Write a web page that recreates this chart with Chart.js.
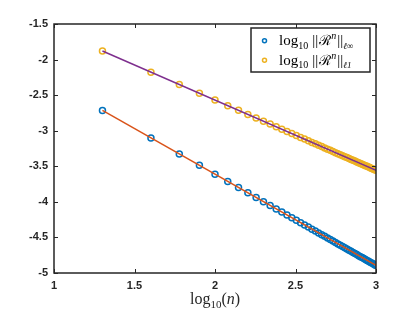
<!DOCTYPE html>
<html>
<head>
<meta charset="utf-8">
<script src="https://cdn.jsdelivr.net/npm/chart.js@4/dist/chart.umd.min.js"></script>
<style>
  body { margin: 0; background: #fff; }
</style>
</head>
<body>
<canvas id="normChart" width="415" height="312"></canvas>
<script>
// log10(n) for n = 20, 40, ..., 1000
const logN = [1.3010, 1.6021, 1.7782, 1.9031, 2.0000, 2.0792, 2.1461, 2.2041, 2.2553, 2.3010,
  2.3424, 2.3802, 2.4150, 2.4472, 2.4771, 2.5051, 2.5315, 2.5563, 2.5798, 2.6021,
  2.6232, 2.6435, 2.6628, 2.6812, 2.6990, 2.7160, 2.7324, 2.7482, 2.7634, 2.7782,
  2.7924, 2.8062, 2.8195, 2.8325, 2.8451, 2.8573, 2.8692, 2.8808, 2.8921, 2.9031,
  2.9138, 2.9243, 2.9345, 2.9445, 2.9542, 2.9638, 2.9731, 2.9823, 2.9912, 3.0000];

// log10 ||R^n|| in l-infinity norm
const normInf = [-2.715, -3.101, -3.327, -3.487, -3.611, -3.713, -3.799, -3.873, -3.939, -3.998,
  -4.051, -4.099, -4.144, -4.185, -4.223, -4.259, -4.293, -4.325, -4.355, -4.384,
  -4.411, -4.437, -4.462, -4.485, -4.508, -4.530, -4.551, -4.571, -4.591, -4.610,
  -4.628, -4.645, -4.663, -4.679, -4.695, -4.711, -4.726, -4.741, -4.756, -4.770,
  -4.783, -4.797, -4.810, -4.823, -4.835, -4.848, -4.859, -4.871, -4.883, -4.894];

// log10 ||R^n|| in l1 norm
const normL1 = [-1.880, -2.177, -2.351, -2.474, -2.570, -2.648, -2.714, -2.771, -2.821, -2.867,
  -2.907, -2.945, -2.979, -3.011, -3.040, -3.068, -3.094, -3.118, -3.142, -3.164,
  -3.184, -3.204, -3.223, -3.242, -3.259, -3.276, -3.292, -3.308, -3.323, -3.337,
  -3.351, -3.365, -3.378, -3.391, -3.403, -3.415, -3.427, -3.439, -3.450, -3.461,
  -3.471, -3.481, -3.491, -3.501, -3.511, -3.520, -3.530, -3.539, -3.547, -3.556];

// fitted lines (end points)
const fitX = [1.3010, 3.0000];
const fitInf = [-2.715, -4.894];
const fitL1 = [-1.880, -3.556];

const xTicks = [1, 1.5, 2, 2.5, 3];
const yTicks = [-5, -4.5, -4, -3.5, -3, -2.5, -2, -1.5];

const BLUE = '#0072BD', ORANGE = '#D95319', YELLOW = '#EDB120', PURPLE = '#7E2F8E';
const AXIS = '#262626';

const pts = (xs, ys) => xs.map((v, i) => ({x: v, y: ys[i]}));

function drawMath(ctx, parts, x, base) {
  parts.forEach(p => {
    ctx.font = p.font;
    ctx.fillText(p.t, x + (p.pre || 0), base + (p.dy || 0));
    x += ctx.measureText(p.t).width + (p.pre || 0) + (p.gap || 0);
  });
  return x;
}
function mathWidth(ctx, parts) {
  let w = 0;
  parts.forEach(p => { ctx.font = p.font; w += ctx.measureText(p.t).width + (p.pre || 0) + (p.gap || 0); });
  return w;
}

const SERIF = '"Liberation Serif", "DejaVu Serif", serif';

const boxPlugin = {
  id: 'box',
  afterDraw(chart) {
    const {ctx, chartArea: a, scales: {x, y}} = chart;
    ctx.save();
    ctx.strokeStyle = AXIS;
    ctx.lineWidth = 1.5;
    ctx.strokeRect(Math.round(a.left), Math.round(a.top),
      Math.round(a.right - a.left), Math.round(a.bottom - a.top));
    const tl = 4;
    ctx.lineWidth = 1;
    ctx.beginPath();
    xTicks.forEach(v => {
      const px = Math.round(x.getPixelForValue(v)) + 0.5;
      ctx.moveTo(px, a.bottom); ctx.lineTo(px, a.bottom - tl);
      ctx.moveTo(px, a.top); ctx.lineTo(px, a.top + tl);
    });
    yTicks.forEach(v => {
      const py = Math.round(y.getPixelForValue(v)) + 0.5;
      ctx.moveTo(a.left, py); ctx.lineTo(a.left + tl, py);
      ctx.moveTo(a.right, py); ctx.lineTo(a.right - tl, py);
    });
    ctx.stroke();

    // x axis title: log10(n)
    ctx.fillStyle = AXIS;
    ctx.textBaseline = 'alphabetic';
    ctx.textAlign = 'left';
    const title = [
      {t: 'log', font: '16px ' + SERIF},
      {t: '10', font: '11px ' + SERIF, dy: 3.5},
      {t: '(', font: '16px ' + SERIF},
      {t: 'n', font: 'italic 16px ' + SERIF},
      {t: ')', font: '16px ' + SERIF}
    ];
    const tw = mathWidth(ctx, title);
    drawMath(ctx, title, (a.left + a.right) / 2 - tw / 2, 304);

    // legend
    const lx = 251, ly = 28, lw = 119, lh = 44;
    ctx.fillStyle = '#fff';
    ctx.fillRect(lx, ly, lw, lh);
    ctx.strokeStyle = AXIS;
    ctx.lineWidth = 1.5;
    ctx.strokeRect(lx, ly, lw, lh);
    const entries = [
      {color: BLUE, sub: 'ℓ∞', base: 45},
      {color: YELLOW, sub: 'ℓ1', base: 64.5}
    ];
    entries.forEach(e => {
      ctx.beginPath();
      ctx.strokeStyle = e.color;
      ctx.lineWidth = 1.5;
      ctx.arc(264.5, e.base - 4.3, 2, 0, Math.PI * 2);
      ctx.stroke();
      ctx.fillStyle = '#000';
      drawMath(ctx, [
        {t: 'log', font: '15px ' + SERIF},
        {t: '10', font: '10px ' + SERIF, dy: 3.5, gap: 4},
        {t: '||', font: '15px ' + SERIF},
        {t: 'ℛ', font: '14px "DejaVu Serif", serif', pre: 1},
        {t: 'n', font: 'italic 10px ' + SERIF, dy: -6},
        {t: '||', font: '15px ' + SERIF, pre: 1},
        {t: e.sub, font: 'italic 9px ' + SERIF, dy: 3.5}
      ], 279, e.base);
    });
    ctx.restore();
  }
};

const tickFont = {family: '"Liberation Sans", Arial, sans-serif', size: 11, weight: 'bold'};

new Chart(document.getElementById('normChart').getContext('2d'), {
  type: 'scatter',
  data: {
    datasets: [
      {data: pts(fitX, fitInf), showLine: true, borderColor: ORANGE, borderWidth: 1.5, pointRadius: 0},
      {data: pts(fitX, fitL1), showLine: true, borderColor: PURPLE, borderWidth: 1.5, pointRadius: 0},
      {data: pts(logN, normInf), pointRadius: 3, pointBorderWidth: 1.5,
        pointBorderColor: BLUE, pointBackgroundColor: 'rgba(0,0,0,0)'},
      {data: pts(logN, normL1), pointRadius: 3, pointBorderWidth: 1.5,
        pointBorderColor: YELLOW, pointBackgroundColor: 'rgba(0,0,0,0)'}
    ]
  },
  options: {
    responsive: false,
    animation: false,
    layout: {padding: {left: 0, top: 24, right: 39, bottom: 0}},
    plugins: {legend: {display: false}, tooltip: {enabled: false}},
    scales: {
      x: {
        type: 'linear', min: 1, max: 3,
        afterBuildTicks: s => { s.ticks = xTicks.map(v => ({value: v})); },
        afterFit: s => { s.height = 39; },
        grid: {display: false, drawTicks: false}, border: {display: false},
        ticks: {font: tickFont, color: AXIS, padding: 6, maxRotation: 0, callback: v => String(v)}
      },
      y: {
        type: 'linear', min: -5, max: -1.5,
        afterBuildTicks: s => { s.ticks = yTicks.map(v => ({value: v})); },
        afterFit: s => { s.width = 54; },
        grid: {display: false, drawTicks: false}, border: {display: false},
        ticks: {font: tickFont, color: AXIS, padding: 6, callback: v => String(v)}
      }
    }
  },
  plugins: [boxPlugin]
});
</script>
</body>
</html>
